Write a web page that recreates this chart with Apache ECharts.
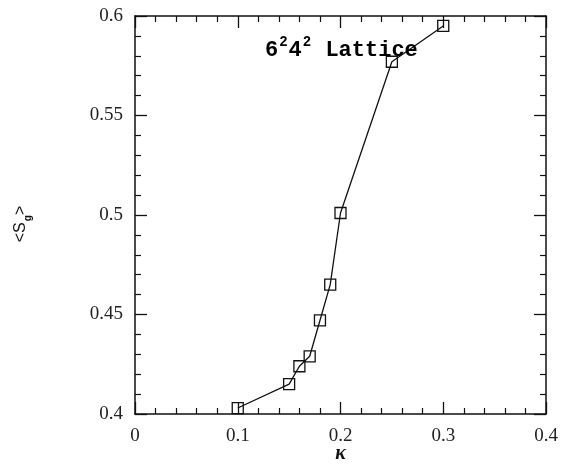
<!DOCTYPE html>
<html>
<head>
<meta charset="utf-8">
<script src="https://cdn.jsdelivr.net/npm/echarts@6/dist/echarts.min.js"></script>
<style>
html,body{margin:0;padding:0;background:#fff;overflow:hidden;}
#c{width:561px;height:465px;}
</style>
</head>
<body>
<div id="c"></div>
<script>
var kappa = [0.10, 0.15, 0.16, 0.17, 0.18, 0.19, 0.20, 0.25, 0.30];
var sg    = [0.403, 0.415, 0.424, 0.429, 0.447, 0.465, 0.501, 0.577, 0.595];
var xTicks = [0, 0.1, 0.2, 0.3, 0.4];
var yTicks = [0.4, 0.45, 0.5, 0.55, 0.6];
var annotation = ['6', '2', '4', '2', ' Lattice'];

var chart = echarts.init(document.getElementById('c'), null, {renderer: 'canvas', width: 561, height: 465});
var serif = 'Liberation Serif';
function common() {
  return {
    axisLine: {show: true, onZero: false, lineStyle: {color: '#111', width: 1.5}},
    axisTick: {show: true, inside: true, length: 12, lineStyle: {color: '#111', width: 1.3}},
    minorTick: {show: true, splitNumber: 5, length: 6, lineStyle: {color: '#111', width: 1.2}},
    splitLine: {show: false},
    minorSplitLine: {show: false}
  };
}
function xAx(pos, showLabel) {
  return Object.assign(common(), {
    type: 'value', position: pos, min: xTicks[0], max: xTicks[xTicks.length - 1], interval: 0.1,
    axisLabel: {show: showLabel, fontFamily: serif, fontSize: 19, color: '#222', margin: 13}
  }, showLabel ? {
    name: 'κ', nameLocation: 'middle', nameGap: 30, nameMoveOverlap: false,
    nameTextStyle: {fontFamily: serif, fontStyle: 'italic', fontWeight: 'bold', fontSize: 20, color: '#111'}
  } : {});
}
function yAx(pos, showLabel) {
  return Object.assign(common(), {
    type: 'value', position: pos, min: yTicks[0], max: yTicks[yTicks.length - 1], interval: 0.05,
    axisLabel: {show: showLabel, fontFamily: serif, fontSize: 19, color: '#222', margin: 12}
  }, showLabel ? {
    name: '{a|<S}{s|g}{a|>}', nameLocation: 'middle', nameGap: 106, nameRotate: 90, nameMoveOverlap: false,
    nameTextStyle: {
      padding: [0, 18, 0, 0],
      rich: {
        a: {fontFamily: 'Liberation Sans', fontSize: 16, color: '#111', verticalAlign: 'bottom', lineHeight: 20},
        s: {fontFamily: 'Liberation Sans', fontSize: 10, fontWeight: 'bold', color: '#111', verticalAlign: 'bottom', lineHeight: 12, padding: [0, 0, -4, 1]}
      }
    }
  } : {});
}
chart.setOption({
  backgroundColor: '#fff',
  animation: false,
  grid: {left: 135, right: 15, top: 16, bottom: 51, containLabel: false, outerBoundsMode: 'none'},
  xAxis: [xAx('bottom', true), xAx('top', false)],
  yAxis: [yAx('left', true), yAx('right', false)],
  graphic: [{
    type: 'text', left: 265, top: 35, z: 10,
    style: {
      text: '{m|' + annotation[0] + '}{p|' + annotation[1] + '}{m|' + annotation[2] + '}{p|' + annotation[3] + '}{m|' + annotation[4] + '}',
      rich: {
        m: {fontFamily: 'Liberation Mono', fontWeight: 'bold', fontSize: 22, color: '#111', verticalAlign: 'bottom', lineHeight: 26},
        p: {fontFamily: 'Liberation Mono', fontWeight: 'bold', fontSize: 14, color: '#111', verticalAlign: 'top', lineHeight: 26, padding: [0, 1, 0, 1]}
      }
    }
  }],
  series: [{
    type: 'line',
    xAxisIndex: 0, yAxisIndex: 0,
    data: kappa.map(function (k, i) { return [k, sg[i]]; }),
    symbol: 'rect', symbolSize: 11, showSymbol: true,
    lineStyle: {color: '#111', width: 1.3},
    itemStyle: {color: 'rgba(0,0,0,0)', borderColor: '#111', borderWidth: 1.3}
  }]
});
</script>
</body>
</html>
